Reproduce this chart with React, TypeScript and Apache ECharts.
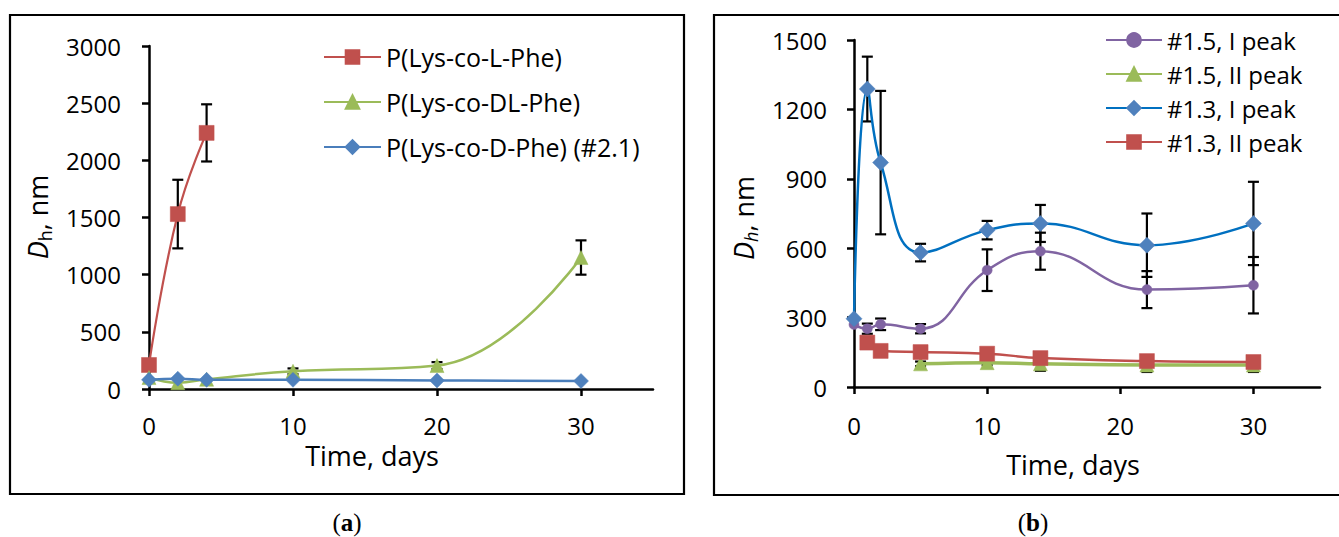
import React, { useEffect, useRef } from "react";
import * as echarts from "echarts";

// ---------- Panel (a) data ----------
const daysL = [0, 2, 4];
const valsL = [210, 1530, 2240];
const errL = [0, 300, 250];

const daysA = [0, 2, 4, 10, 20, 30];
const valsDL = [100, 55, 85, 155, 205, 1150];
const errDL = [0, 0, 0, 25, 30, 150];
const valsD = [80, 90, 80, 80, 75, 70];

const namesA = ["P(Lys-co-L-Phe)", "P(Lys-co-DL-Phe)", "P(Lys-co-D-Phe) (#2.1)"];
const yTicksA = { min: 0, max: 3000, interval: 500 };

// ---------- Panel (b) data ----------
const daysB = [0, 1, 2, 5, 10, 14, 22, 30];
const p15I = [270, 252, 271, 252, 505, 587, 421, 440];
const err15I = [0, 22, 25, 20, 90, 80, 80, 122];
const p13I = [295, 1288, 970, 581, 678, 707, 613, 707];
const err13I = [0, 140, 310, 38, 40, 80, 137, 180];
const daysB15II = [5, 10, 14, 22, 30];
const p15II = [100, 105, 100, 95, 95];
const err15II = [10, 10, 30, 30, 30];
const daysB13II = [1, 2, 5, 10, 14, 22, 30];
const p13II = [192, 156, 151, 144, 125, 112, 108];

const namesB = ["#1.5, I peak", "#1.5, II peak", "#1.3, I peak", "#1.3, II peak"];
const yTicksB = { min: 0, max: 1500, interval: 300 };
const xTicks = [0, 10, 20, 30];

const FONT = "Open Sans";

const pairs = (xs: number[], ys: number[]) => xs.map((x, i) => [x, ys[i]]);
const errData = (xs: number[], ys: number[], es: number[]) =>
  xs
    .map((x, i) => [x, ys[i] - es[i], ys[i] + es[i], es[i]])
    .filter((d) => d[3] > 0)
    .map((d) => [d[0], d[1], d[2]]);

const errRender = (params: any, api: any) => {
  const x = api.value(0);
  const lo = api.value(1);
  const hi = api.value(2);
  const p1 = api.coord([x, hi]);
  const p2 = api.coord([x, lo]);
  const w = 5.5;
  const st = { stroke: "#000", lineWidth: 2.2 };
  return {
    type: "group",
    children: [
      { type: "line", shape: { x1: p1[0], y1: p1[1], x2: p2[0], y2: p2[1] }, style: st },
      { type: "line", shape: { x1: p1[0] - w, y1: p1[1], x2: p1[0] + w, y2: p1[1] }, style: st },
      { type: "line", shape: { x1: p2[0] - w, y1: p2[1], x2: p2[0] + w, y2: p2[1] }, style: st },
    ],
  };
};

const xAxisCfg = (gridIndex: number, margin: number) => ({
  type: "value",
  gridIndex,
  min: 0,
  max: 35,
  axisLine: { onZero: false, lineStyle: { color: "#000", width: 2.5 } },
  axisTick: { customValues: xTicks, length: 7, lineStyle: { color: "#000", width: 2.5 } },
  axisLabel: {
    customValues: xTicks,
    margin,
    color: "#000",
    fontSize: 24,
    fontFamily: FONT,
    formatter: (v: number) => String(v),
  },
  splitLine: { show: false },
});

const yAxisCfg = (gridIndex: number, t: any, margin: number) => ({
  type: "value",
  gridIndex,
  min: t.min,
  max: t.max,
  interval: t.interval,
  axisLine: { show: true, lineStyle: { color: "#000", width: 2.5 } },
  axisTick: { show: true, length: 7, lineStyle: { color: "#000", width: 2.5 } },
  axisLabel: {
    margin,
    color: "#000",
    fontSize: 24,
    fontFamily: FONT,
    formatter: (v: number) => String(v),
  },
  splitLine: { show: false },
});

const lineSeries = (
  name: string,
  data: number[][],
  color: string,
  lineColor: string,
  symbol: string,
  size: number,
  width: number,
  axis: number,
  z: number
) => ({
  type: "line",
  name,
  data,
  xAxisIndex: axis,
  yAxisIndex: axis,
  smooth: 0.45,
  symbol,
  symbolSize: size,
  showSymbol: true,
  z,
  itemStyle: { color, borderColor: color, borderWidth: 0.5 },
  lineStyle: { color: lineColor, width },
  emphasis: { disabled: true },
});

const errSeries = (data: number[][], axis: number) => ({
  type: "custom",
  xAxisIndex: axis,
  yAxisIndex: axis,
  data,
  encode: { x: 0, y: [1, 2] },
  renderItem: errRender,
  z: 1,
  silent: true,
});

const RED = "#C0504D";
const GREEN = "#9BBB59";
const BLUE = "#4F81BD";
const BLUE_LINE_B = "#0070C0";
const BLUE_LINE_A = "#4A7EBB";
const PURPLE = "#8064A2";

const yTitle = (x: number, y: number, italicSub: boolean) => ({
  type: "text",
  x,
  y,
  rotation: Math.PI / 2,
  style: {
    text: "{d|D}{h|h}{n|, nm}",
    align: "center",
    verticalAlign: "middle",
    fill: "#000",
    rich: {
      d: { fontFamily: FONT, fontSize: 27, fontStyle: "italic", lineHeight: 34, fill: "#000" },
      h: {
        fontFamily: FONT,
        fontSize: 18,
        fontStyle: italicSub ? "italic" : "normal",
        lineHeight: 18,
        verticalAlign: "bottom",
        fill: "#000",
      },
      n: { fontFamily: FONT, fontSize: 27, lineHeight: 34, fill: "#000" },
    },
  },
});

const plainText = (x: number, y: number, text: string) => ({
  type: "text",
  x,
  y,
  style: { text, align: "center", verticalAlign: "middle", fontFamily: FONT, fontSize: 27, fill: "#000" },
});

const panelLabel = (x: number, y: number, letter: string) => ({
  type: "text",
  x,
  y,
  style: {
    text: "{p|(}{l|" + letter + "}{p|)}",
    align: "center",
    verticalAlign: "middle",
    rich: {
      p: { fontFamily: "Liberation Serif", fontSize: 25, fill: "#000" },
      l: { fontFamily: "Liberation Serif", fontSize: 25, fontWeight: "bold", fill: "#000" },
    },
  },
});

export default function App() {
  const ref = useRef<HTMLDivElement>(null);
  useEffect(() => {
    if (!ref.current) return;
    const chart = echarts.init(ref.current, undefined, { renderer: "svg" });
    chart.setOption({
      animation: false,
      backgroundColor: "#fff",
      grid: [
        { left: 149, top: 46, width: 504, height: 343 },
        { left: 854, top: 40, width: 466, height: 347 },
      ],
      xAxis: [xAxisCfg(0, 24), xAxisCfg(1, 26)],
      yAxis: [yAxisCfg(0, yTicksA, 28), yAxisCfg(1, yTicksB, 27)],
      legend: [
        {
          data: namesA,
          orient: "vertical",
          left: 318,
          top: 37,
          itemWidth: 57,
          itemHeight: 17,
          itemGap: 15,
          textStyle: { fontFamily: FONT, fontSize: 25, color: "#000", lineHeight: 30 },
          selectedMode: false,
        },
        {
          data: namesB,
          orient: "vertical",
          left: 1100,
          top: 21,
          itemWidth: 56,
          itemHeight: 17,
          itemGap: 6,
          textStyle: { fontFamily: FONT, fontSize: 24, color: "#000", lineHeight: 28 },
          selectedMode: false,
        },
      ],
      graphic: [
        { type: "rect", shape: { x: 10, y: 15, width: 674, height: 479 }, style: { fill: "none", stroke: "#000", lineWidth: 2.2 } },
        { type: "rect", shape: { x: 714, y: 15, width: 700, height: 480 }, style: { fill: "none", stroke: "#000", lineWidth: 2.2 } },
        yTitle(37, 217, false),
        yTitle(743, 218, true),
        plainText(372, 455, "Time, days"),
        plainText(1073, 464, "Time, days"),
        panelLabel(347, 522, "a"),
        panelLabel(1033, 522, "b"),
      ],
      series: [
        errSeries(errData(daysL, valsL, errL), 0),
        errSeries(errData(daysA, valsDL, errDL), 0),
        lineSeries(namesA[0], pairs(daysL, valsL), RED, RED, "rect", 15, 2.2, 0, 2),
        lineSeries(namesA[1], pairs(daysA, valsDL), GREEN, GREEN, "triangle", 14, 2.5, 0, 3),
        lineSeries(namesA[2], pairs(daysA, valsD), BLUE, BLUE_LINE_A, "diamond", 15, 2.5, 0, 4),

        errSeries(errData(daysB, p15I, err15I), 1),
        errSeries(errData(daysB, p13I, err13I), 1),
        errSeries(errData(daysB15II, p15II, err15II), 1),
        lineSeries(namesB[0], pairs(daysB, p15I), PURPLE, PURPLE, "circle", 10, 2.5, 1, 2),
        lineSeries(namesB[1], pairs(daysB15II, p15II), GREEN, GREEN, "triangle", 14, 3.5, 1, 3),
        lineSeries(namesB[2], pairs(daysB, p13I), BLUE, BLUE_LINE_B, "diamond", 16, 2.5, 1, 4),
        lineSeries(namesB[3], pairs(daysB13II, p13II), RED, RED, "rect", 15, 2.5, 1, 5),
      ],
    });
    return () => chart.dispose();
  }, []);
  return (
    <div
      ref={ref}
      style={{ position: "fixed", left: 0, top: 0, width: 1339, height: 537, background: "#fff" }}
    />
  );
}
